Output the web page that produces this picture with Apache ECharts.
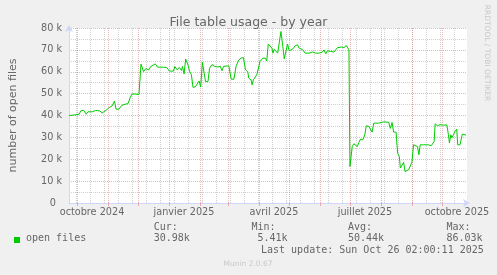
<!DOCTYPE html>
<html><head><meta charset="utf-8">
<script src="https://cdn.jsdelivr.net/npm/echarts@6/dist/echarts.min.js"></script>
<style>html,body{margin:0;padding:0;background:#f0f0f0}#c{width:497px;height:275px}</style>
</head><body><div id="c"></div><script>
// x = days since 2024-09-23 00:00 ; graph ends 2025-10-26 02:00
const periodDays = 398.08;
const days = [0,5,10,12.2,14.9,17.2,18.9,23.2,26.6,28.2,30.9,33.1,34.8,37.5,39.8,43.1,45.5,47.1,49.8,53,56.4,59,61.4,63,66.4,70,
72,74.6,76.9,79.6,81.9,83.9,86.3,88.6,91.3,94.5,97.8,100.5,104.5,105.8,108.2,110.2,112.5,113.5,115.1,116.7,119.1,120.7,122.4,124.1,126.7,128.4,130.1,131.7,133.4,135.3,136.6,139,140.6,143,145.6,149,151.3,153,154.6,156.5,159.9,162.2,164.9,167.2,169.9,172.2,174.5,176.5,178.8,179.8,182.1,183.1,184.4,185.8,187.8,189.8,191.1,193.8,196.4,197.8,
199.3,201,203,204,205.3,207,208.7,210.3,212,213.7,215.3,217,218.6,220.2,221.9,223.6,226.2,228.6,230.2,231.9,233.6,236.2,240.1,243.5,246.8,250.1,253.5,255.1,256.8,258.5,260,261.7,263.4,265,266.7,268.4,270,272.7,275,277.4,279,280,
281,282.3,283.3,284.9,286.6,288.3,289.9,291.6,293.9,294.9,295.9,297.3,299.9,301.5,303.2,304.8,306.5,309.8,311.5,314.8,316.5,319.8,321.4,323.1,324.7,327.1,328.7,330.4,331.4,333.1,334.7,336.1,338.1,339.7,341.4,343,344.6,346.3,348.6,350,351.3,354.6,356.3,359.6,362.3,364,365.2,366.2,368.5,371.2,374.5,377.9,379.5,380.5,381.9,382.9,384.5,386.1,387.8,388.8,391.1,392.1,393.4,396.1,397.1];
const openFilesK = [40.0,40.2,40.6,42.3,42.3,40.6,41.7,41.7,42.3,41.5,42.1,41.1,40.3,42.6,43.5,44.4,46.6,42.9,42.9,44.7,45.2,45.4,48.4,49.8,49.8,49.6,
63.5,60.1,61.5,60.8,62.4,61.5,63.6,62.1,62.1,62.1,61.9,60.3,60.3,62.4,60.9,62.0,60.6,62.4,59.0,65.8,63.0,60.1,58.6,52.8,53.3,53.6,55.8,53.0,64.4,59.0,55.5,55.5,61.6,63.3,62.5,62.2,62.5,60.5,62.5,63.0,62.7,56.6,56.6,62.7,65.4,66.2,66.5,60.9,60.0,57.1,56.3,54.0,56.3,56.8,58.6,58.6,64.7,66.2,66.2,64.9,
72.7,73.1,70.8,68.5,70.3,70.0,68.5,67.7,78.4,72.2,65.9,66.2,72.7,69.6,69.9,70.3,71.9,72.3,70.8,71.6,70.1,68.5,68.5,69.0,68.5,68.5,69.0,70.0,68.2,69.6,69.0,69.3,68.5,69.0,70.0,71.0,70.5,71.3,71.0,72.0,71.3,70.0,
16.7,16.7,25.8,27.1,27.1,25.8,27.6,29.2,28.9,28.9,31.2,35.3,35.0,34.7,32.4,36.5,36.8,36.5,37.1,37.1,37.4,36.9,34.1,36.8,32.4,32.4,22.8,21.3,16.0,16.7,18.6,14.4,15.2,15.2,15.2,18.6,26.6,27.1,25.8,22.1,26.6,26.6,25.8,26.6,26.2,25.8,28.1,36.2,35.3,35.8,35.6,35.7,31.2,27.4,31.2,29.8,31.2,32.7,33.8,26.6,26.6,26.6,31.5,31.2,30.98];
const monthStartDays = [8,39,69,100,131,159,190,220,251,281,312,343,373];
const firstMonday = 7; // 2024-09-30, minor grid every 2 weeks
const labelDays = [23,115,205,296,388];
const labelTexts = ['octobre 2024','janvier 2025','avril 2025','juillet 2025','octobre 2025'];
const yMax = 80000, yStep = 10000;
const legendName = 'open files';
const statNames = ['Cur:','Min:','Avg:','Max:'];
const statValues = ['30.98k',' 5.41k','50.44k','86.03k'];
const lastUpdate = 'Last update: Sun Oct 26 02:00:11 2025';

const biweekly = [];
for (let d = firstMonday; d < periodDays; d += 14) biweekly.push(d);

const FG = '#666666', AX = '#CFD6F8';
const GRIDC = 'rgba(150,150,150,0.45)', MGRIDC = 'rgba(225,90,90,0.45)';
const statX = [153.7, 251.4, 348, 446.4];

const chart = echarts.init(document.getElementById('c'), null, {renderer: 'canvas'});
const graphics = [
  {type:'rect', shape:{x:14,y:237,width:6,height:6}, style:{fill:'#00cc00'}},
  {type:'text', x:26, y:238.8, style:{text:legendName, font:'10px "DejaVu Sans Mono"', fill:FG, verticalAlign:'middle'}},
  {type:'text', x:261, y:250.5, style:{text:lastUpdate, font:'10px "DejaVu Sans Mono"', fill:FG, verticalAlign:'middle'}},
  {type:'text', x:248, y:264, style:{text:'Munin 2.0.67', font:'7.5px "DejaVu Sans"', fill:'#c8c8c8', align:'center', verticalAlign:'middle'}},
  {type:'text', x:487, y:53, rotation:-Math.PI/2, style:{text:'RRDTOOL / TOBI OETIKER', font:'7.5px "DejaVu Sans"', fill:'#c8c8c8', align:'center', verticalAlign:'middle'}}
];
statNames.forEach((n,i)=>{
  graphics.push({type:'text', x:statX[i], y:227.2, style:{text:n, font:'10px "DejaVu Sans Mono"', fill:FG, verticalAlign:'middle'}});
  graphics.push({type:'text', x:statX[i], y:238.8, style:{text:statValues[i], font:'10px "DejaVu Sans Mono"', fill:FG, verticalAlign:'middle'}});
});

chart.setOption({
  animation: false,
  backgroundColor: '#f0f0f0',
  title: {text:'File table usage - by year', left:'center', top:11, textStyle:{fontFamily:'DejaVu Sans', fontSize:12.5, fontWeight:'normal', color:FG}},
  grid: {left:67, top:28, width:400, height:175, show:true, backgroundColor:'#ffffff', borderWidth:0},
  xAxis: [
    { // minor grid: every second Monday
      type:'value', min:0, max:periodDays, position:'bottom',
      axisLine:{show:false}, axisLabel:{show:false},
      axisTick:{show:false, customValues:biweekly},
      splitLine:{show:true, lineStyle:{color:GRIDC, type:'dotted', width:1}}
    },
    { // major grid: month starts, labels mid-month
      type:'value', min:0, max:periodDays, position:'bottom',
      axisLine:{show:true, lineStyle:{color:AX, width:1}, symbol:['none','arrow'], symbolSize:[6,7], symbolOffset:[0,3]},
      axisTick:{show:true, customValues:monthStartDays, length:3, lineStyle:{color:MGRIDC}},
      axisLabel:{customValues:labelDays, formatter:(v)=>{const i=labelDays.indexOf(v);return i>=0?labelTexts[i]:'';}, fontFamily:'DejaVu Sans', fontSize:9.7, color:FG, margin:4},
      splitLine:{show:true, lineStyle:{color:MGRIDC, type:'dotted', width:1}}
    }
  ],
  yAxis: {
    type:'value', min:0, max:yMax, interval:yStep,
    name:'number of open files', nameLocation:'middle', nameGap:50,
    nameTextStyle:{fontFamily:'DejaVu Sans', fontSize:11, color:FG},
    axisLine:{show:true, lineStyle:{color:AX, width:1}, symbol:['none','arrow'], symbolSize:[6,7], symbolOffset:[0,3]},
    axisTick:{show:false},
    axisLabel:{formatter:(v)=> v===0 ? '0  ' : (v/1000)+' k', fontFamily:'DejaVu Sans', fontSize:9.7, color:FG, margin:7},
    splitLine:{show:true, lineStyle:{color:MGRIDC, type:'dotted', width:1}},
    minorTick:{show:false, splitNumber:2},
    minorSplitLine:{show:true, lineStyle:{color:GRIDC, type:'dotted', width:1}}
  },
  series: [
    {type:'line', name:legendName, xAxisIndex:1, data: days.map((d,i)=>[d, openFilesK[i]*1000]), showSymbol:false, symbol:'none',
     lineStyle:{color:'#00cc00', width:1}, z:5, silent:true}
  ],
  graphic: graphics
});
</script></body></html>
